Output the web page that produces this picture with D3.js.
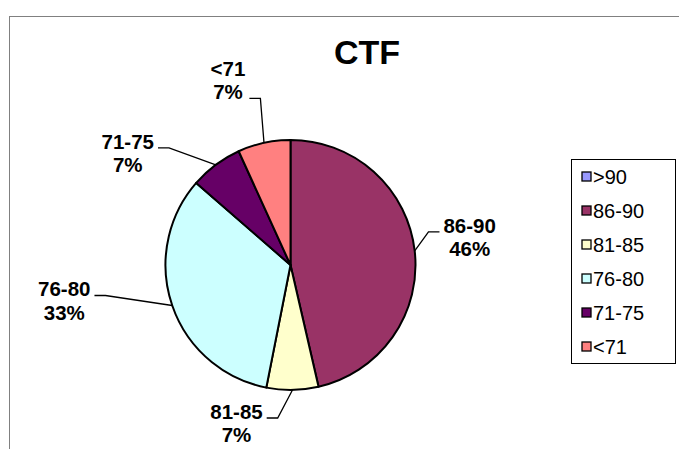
<!DOCTYPE html>
<meta charset="utf-8">
<style>
body { margin: 0; background: #fff; }
text { font-family: "Liberation Sans", Arial, sans-serif; fill: #000; }
</style>
<body>
<div id="chart"></div>
<script src="https://cdn.jsdelivr.net/npm/d3@7"></script>
<script>
// CTF score bands, share of students in each band (%)
var categories = [">90", "86-90", "81-85", "76-80", "71-75", "<71"];
var shares     = [0, 46.4, 6.7, 33.3, 6.8, 6.8];
var colors     = ["#9999FF", "#993366", "#FFFFCC", "#CCFFFF", "#660066", "#FF8080"];
var title = "CTF";

// labels were dragged around by hand in the original, so nudge each one
// off the slice edge: [dx, dy, which text line the leader attaches to]
var labelNudge = {
  "86-90": [55, -18, 0],
  "81-85": [-56, 29, 0],
  "76-80": [-108, -9, 0],
  "71-75": [-88, -16, 0],
  "<71":   [-36, -67, 1]
};

var W = 679, H = 449;
var cx = 290.5, cy = 265, r = 125;

var svg = d3.select("#chart").append("svg")
  .attr("width", W).attr("height", H);

// outer chart frame (runs off the right and bottom of the picture)
svg.append("rect")
  .attr("x", 9.5).attr("y", 16.5)
  .attr("width", 720).attr("height", 480)
  .attr("fill", "none").attr("stroke", "#808080").attr("stroke-width", 1);

svg.append("text")
  .attr("x", 367).attr("y", 64)
  .attr("text-anchor", "middle")
  .style("font-size", "34px").style("font-weight", "bold")
  .text(title);

var data = categories.map(function(c, i) { return { cat: c, value: shares[i], color: colors[i] }; });
var total = d3.sum(shares);

var pie = d3.pie().sort(null).value(function(d) { return d.value; });
var arc = d3.arc().innerRadius(0).outerRadius(r);
var arcs = pie(data).filter(function(d) { return d.data.value > 0; });

var g = svg.append("g").attr("transform", "translate(" + cx + "," + cy + ")");

g.selectAll("path.slice")
  .data(arcs)
  .enter().append("path")
  .attr("class", "slice")
  .attr("d", arc)
  .attr("fill", function(d) { return d.data.color; })
  .attr("stroke", "#000")
  .attr("stroke-width", 2)
  .attr("stroke-linejoin", "round");

//---------------- labels + leader lines ----------------
var lineGap = 23.5;
arcs.forEach(function(d) {
  var mid = (d.startAngle + d.endAngle) / 2;
  var ex = r * Math.sin(mid), ey = -r * Math.cos(mid);
  var n = labelNudge[d.data.cat];
  var lx = ex + n[0], ly = ey + n[1];

  var t = g.append("text")
    .attr("text-anchor", "middle")
    .style("font-size", "20.5px").style("font-weight", "bold");
  t.append("tspan").attr("x", lx).attr("y", ly).text(d.data.cat);
  t.append("tspan").attr("x", lx).attr("y", ly + lineGap)
    .text(Math.round(d.data.value / total * 100) + "%");

  var w = 0;
  t.selectAll("tspan").each(function() { w = Math.max(w, this.getComputedTextLength()); });

  var right = n[0] > 0;
  var endX = right ? lx - w / 2 - 4 : lx + w / 2 + 4;
  var elbowX = right ? endX - 11 : endX + 11;
  var yy = ly + n[2] * lineGap - 1;

  g.append("path")
    .attr("d", d3.line()([[ex, ey], [elbowX, yy], [endX, yy]]))
    .attr("fill", "none")
    .attr("stroke", "#000")
    .attr("stroke-width", 1.3);
});

//---------------- legend ----------------
var legTop = 159, legBottom = 363, legLeft = 571, legRight = 675;
var row = d3.scaleBand().domain(categories).range([legTop, legBottom]);

svg.append("rect")
  .attr("x", legLeft + 0.5).attr("y", legTop + 0.5)
  .attr("width", legRight - legLeft).attr("height", legBottom - legTop)
  .attr("fill", "#fff").attr("stroke", "#000").attr("stroke-width", 1);

var items = svg.selectAll("g.leg")
  .data(data)
  .enter().append("g")
  .attr("class", "leg")
  .attr("transform", function(d) { return "translate(" + (legLeft + 11) + "," + (row(d.cat) + row.bandwidth() / 2 + 1) + ")"; });

items.append("rect")
  .attr("x", 0).attr("y", -5)
  .attr("width", 9).attr("height", 9)
  .attr("fill", function(d) { return d.color; })
  .attr("stroke", "#000").attr("stroke-width", 1.3);

items.append("text")
  .attr("x", 11).attr("y", 0)
  .attr("dy", "0.35em")
  .style("font-size", "20px")
  .text(function(d) { return d.cat; });
</script>
</body>
